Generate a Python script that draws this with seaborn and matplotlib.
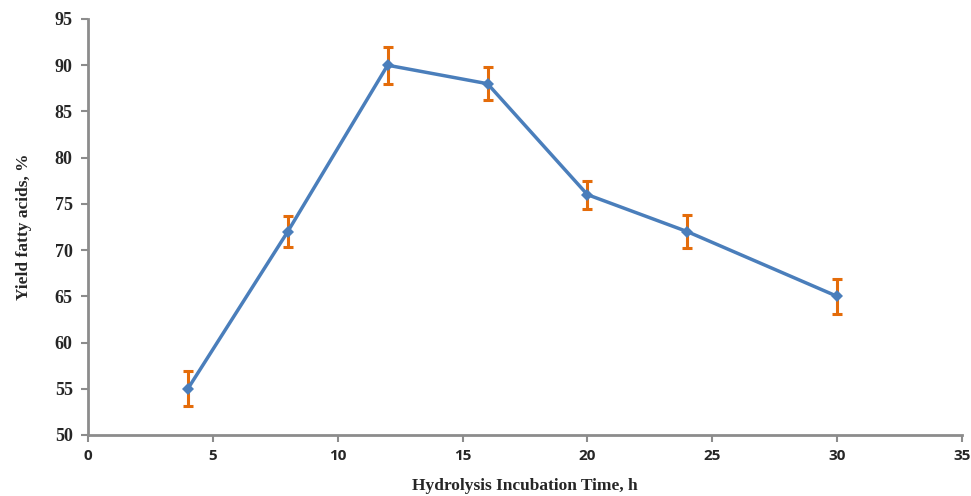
import numpy as np
import pandas as pd
import matplotlib
matplotlib.use("Agg")
import matplotlib.pyplot as plt
import seaborn as sns

# data
time_h = [4, 8, 12, 16, 20, 24, 30]
yield_pct = [55, 72, 90, 88, 76, 72, 65]
yield_err = [1.9, 1.7, 2.0, 1.8, 1.5, 1.8, 1.9]
x_ticks = [0, 5, 10, 15, 20, 25, 30, 35]
y_ticks = [50, 55, 60, 65, 70, 75, 80, 85, 90, 95]

df = pd.DataFrame({'time': time_h, 'yield': yield_pct, 'err': yield_err})

sns.set_style('white')

fig = plt.figure(figsize=(9.71, 4.96), dpi=100)
ax = fig.add_axes([0.0906, 0.123, 0.9001, 0.8387])

# orange error bars behind the line
ax.errorbar(df['time'], df['yield'], yerr=df['err'], fmt='none',
            ecolor='#E46C0A', elinewidth=2.2, capsize=3.5, capthick=2.2, zorder=2)

sns.lineplot(data=df, x='time', y='yield', ax=ax, color='#4A7EBB',
             linewidth=2.5, marker='D', markersize=6, markeredgewidth=0,
             zorder=3)

ax.set_xlim(0, 35)
ax.set_ylim(50, 95)
ax.set_xticks(x_ticks)
ax.set_yticks(y_ticks)

for side in ['top', 'right']:
    ax.spines[side].set_visible(False)
for side in ['left', 'bottom']:
    ax.spines[side].set_color('#8C8C8C')
    ax.spines[side].set_linewidth(2)

ax.tick_params(axis='both', direction='out', length=5, width=1.5, color='#8C8C8C',
               left=True, bottom=True)
ax.tick_params(axis='x', pad=5)
ax.tick_params(axis='y', pad=6)

for lbl in ax.get_yticklabels():
    lbl.set_fontfamily('Liberation Serif')
    lbl.set_fontweight('bold')
    lbl.set_fontsize(13)
for lbl in ax.get_xticklabels():
    lbl.set_fontfamily('Open Sans')
    lbl.set_fontweight('bold')
    lbl.set_fontsize(11)

ax.set_xlabel('Hydrolysis Incubation Time, h', fontfamily='Liberation Serif',
              fontweight='bold', fontsize=12.5, labelpad=11)
ax.set_ylabel('Yield fatty acids, %', fontfamily='Liberation Serif',
              fontweight='bold', fontsize=12.5, labelpad=16)

ax.grid(False)

fig.savefig('out.png', dpi=100)
plt.close(fig)
